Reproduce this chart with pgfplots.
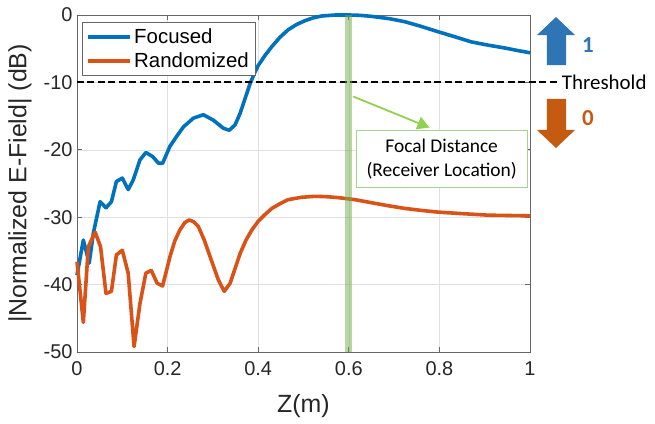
\documentclass[border=0pt]{standalone}
\usepackage{fontspec}
\setmainfont{Liberation Sans}
\newfontfamily\calfont{Carlito}
\usepackage{pgfplots}
\pgfplotsset{compat=1.18}
\usetikzlibrary{arrows.meta}
\definecolor{mblue}{RGB}{0,114,189}
\definecolor{morange}{RGB}{217,83,25}
\definecolor{ablue}{RGB}{46,117,182}
\definecolor{aorange}{RGB}{197,90,17}
\definecolor{lgreen}{RGB}{112,173,71}
\definecolor{agreen}{RGB}{146,208,80}
\definecolor{bgreen}{RGB}{169,209,142}
\definecolor{axgray}{RGB}{38,38,38}
\begin{document}
\begin{tikzpicture}
\path[use as bounding box] (-77bp,-72bp) rectangle (578bp,352bp);
\begin{axis}[
  scale only axis,
  width=453bp, height=337bp,
  xmin=0, xmax=1, ymin=-50, ymax=0,
  xtick={0,0.2,0.4,0.6,0.8,1},
  ytick={-50,-40,-30,-20,-10,0},
  xticklabels={0,0.2,0.4,0.6,0.8,1},
  grid=major,
  major grid style={color=black!12, line width=0.6bp},
  axis line style={color=black!60, line width=0.8bp},
  tick style={color=black!60, line width=0.8bp},
  tick align=inside,
  major tick length=5bp,
  tick label style={font=\fontsize{20}{22}\selectfont, color=axgray},
  xticklabel style={yshift=-6bp},
  yticklabel style={xshift=-1bp},
  /pgf/number format/assume math mode=true,
  xlabel={Z(m)},
  ylabel={|Normalized E-Field| (dB)},
  label style={font=\fontsize{25}{28}\selectfont, color=axgray},
  xlabel style={at={(axis description cs:0.5,-0.160)}, anchor=center},
  ylabel style={at={(axis description cs:-0.126,0.5)}, anchor=center},
  clip=false,
  legend cell align=left,
  legend style={at={(axis description cs:0.0104,0.980)}, anchor=north west,
    draw=black!60, line width=0.8bp, fill=white,
    font=\fontsize{20.5}{22}\selectfont, inner sep=4.5bp, row sep=4bp},
  legend image code/.code={\draw[#1] (0bp,0bp) -- (42bp,0bp);},
]
\addplot[color=mblue, line width=3.6bp, line join=round] coordinates {
(0,-38.6) (0.014,-33.4) (0.027,-36.8) (0.036,-32.4) (0.051,-27.7) (0.064,-28.6)
(0.076,-27.7) (0.087,-24.7) (0.100,-24.2) (0.113,-25.9) (0.124,-24.5) (0.139,-21.5)
(0.152,-20.4) (0.167,-21.0) (0.180,-22.0) (0.189,-22.0) (0.205,-19.5) (0.220,-18.0)
(0.235,-16.6) (0.257,-15.3) (0.279,-14.8) (0.301,-15.6) (0.323,-16.8) (0.336,-17.1)
(0.349,-16.3) (0.360,-14.6) (0.371,-12.4) (0.382,-10.2) (0.392,-8.6) (0.400,-7.5)
(0.415,-6.0) (0.430,-4.7) (0.448,-3.3) (0.466,-2.2) (0.485,-1.4) (0.503,-0.85)
(0.520,-0.45) (0.540,-0.15) (0.570,0) (0.601,0) (0.625,-0.05) (0.650,-0.2)
(0.690,-0.55) (0.724,-1.0) (0.760,-1.7) (0.798,-2.5) (0.835,-3.25) (0.871,-4.0)
(0.910,-4.5) (0.945,-4.9) (0.975,-5.3) (1.0,-5.6)
};
\addlegendentry{Focused}
\addplot[color=morange, line width=3.6bp, line join=round] coordinates {
(0,-36.6) (0.014,-45.6) (0.025,-34.4) (0.040,-32.2) (0.052,-34.4) (0.064,-41.3)
(0.076,-41.0) (0.087,-35.6) (0.100,-34.9) (0.113,-38.3) (0.126,-49.2) (0.139,-42.8)
(0.152,-38.3) (0.164,-37.9) (0.177,-39.8) (0.189,-40.2) (0.205,-35.9) (0.216,-33.5)
(0.227,-31.9) (0.238,-30.8) (0.248,-30.4) (0.258,-30.7) (0.268,-31.4) (0.281,-33.4)
(0.294,-35.9) (0.312,-39.3) (0.325,-41.0) (0.338,-39.8) (0.349,-37.6) (0.360,-35.4)
(0.373,-33.4) (0.386,-31.9) (0.400,-30.6) (0.415,-29.6) (0.430,-28.7) (0.448,-28.0)
(0.466,-27.4) (0.495,-27.05) (0.525,-26.9) (0.550,-26.95) (0.577,-27.1) (0.614,-27.4)
(0.650,-27.85) (0.687,-28.3) (0.724,-28.7) (0.761,-29.0) (0.798,-29.25) (0.834,-29.4)
(0.870,-29.55) (0.908,-29.7) (0.955,-29.75) (1.0,-29.8)
};
\addlegendentry{Randomized}
% threshold
\draw[black, line width=2bp, dash pattern=on 7bp off 3.5bp] (axis cs:0,-10) -- (axis cs:1.066,-10);
\node[anchor=west, inner sep=0pt, font=\calfont\fontsize{21}{24}\selectfont] at (axis cs:1.070,-10) {Threshold};
% focal band
\draw[lgreen, opacity=0.5, line width=7bp] (axis cs:0.6,0) -- (axis cs:0.6,-50);
\draw[agreen, line width=1.8bp, -{Triangle[length=12bp,width=13bp]}] (axis cs:0.61,-12.1) -- (axis cs:0.778,-16.7);
\node[draw=bgreen, line width=1bp, fill=white, align=center, minimum width=171bp, minimum height=57bp,
  inner sep=2bp, font=\calfont\fontsize{19.5}{24}\selectfont] at (axis cs:0.805,-21.4) {Focal Distance\\(Receiver\ Location)};
% block arrows
\fill[ablue] (axis cs:1.0375,-7.42) -- (axis cs:1.0795,-7.42) -- (axis cs:1.0795,-2.97) -- (axis cs:1.0993,-2.97)
  -- (axis cs:1.0574,-0.3) -- (axis cs:1.0155,-2.97) -- (axis cs:1.0375,-2.97) -- cycle;
\fill[aorange] (axis cs:1.0375,-12.46) -- (axis cs:1.0795,-12.46) -- (axis cs:1.0795,-17.06) -- (axis cs:1.0993,-17.06)
  -- (axis cs:1.0574,-19.73) -- (axis cs:1.0155,-17.06) -- (axis cs:1.0375,-17.06) -- cycle;
\node[ablue, font=\calfont\bfseries\fontsize{23}{26}\selectfont, inner sep=0pt] at (axis cs:1.128,-4.4) {1};
\node[aorange, font=\calfont\bfseries\fontsize{23}{26}\selectfont, inner sep=0pt] at (axis cs:1.128,-15.3) {0};
\end{axis}
\end{tikzpicture}
\end{document}
